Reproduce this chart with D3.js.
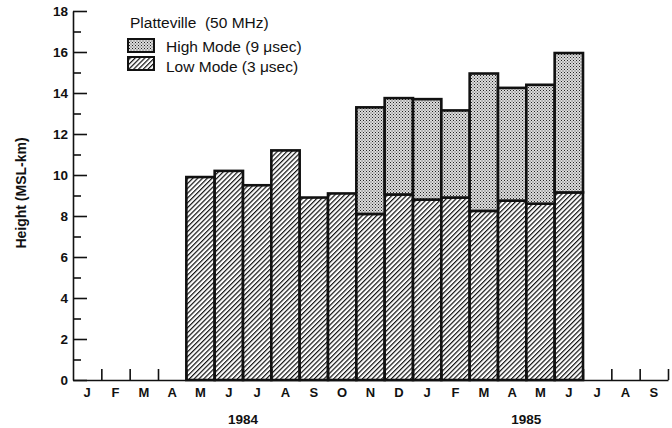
<!DOCTYPE html>
<html>
<head>
<meta charset="utf-8">
<script src="https://cdn.jsdelivr.net/npm/d3@7/dist/d3.min.js"></script>
<style>
  html, body { margin: 0; padding: 0; background: #fff; }
  svg text { font-family: "Liberation Sans", Arial, Helvetica, sans-serif; fill: #111; }
</style>
</head>
<body>
<div id="chart"></div>
<script>
// months Jan 1984 .. Sep 1985
const months = ['J','F','M','A','M','J','J','A','S','O','N','D','J','F','M','A','M','J','J','A','S'];
// low mode (3 usec) top height, km
const lowMode = [null, null, null, null, 9.9, 10.2, 9.5, 11.2, 8.9, 9.1, 8.1, 9.05, 8.8, 8.9, 8.25, 8.75, 8.6, 9.15, null, null, null];
// high mode (9 usec) top height, km
const highMode = [null, null, null, null, null, null, null, null, null, null, 13.3, 13.75, 13.7, 13.15, 14.95, 14.25, 14.4, 15.95, null, null, null];
const yearLabels = ['1984', '1985'];
const yearStart = [6, 16];
const yTicks = [0, 2, 4, 6, 8, 10, 12, 14, 16, 18];
const yMinor = [1, 3, 5, 7, 9, 11, 13, 15, 17];

const width = 672, height = 428;
const plot = { left: 73, right: 668, top: 11, bottom: 380 };

const svg = d3.select('#chart').append('svg')
  .attr('width', width)
  .attr('height', height);

const defs = svg.append('defs');
const hatch = defs.append('pattern')
  .attr('id', 'hatch')
  .attr('patternUnits', 'userSpaceOnUse')
  .attr('width', 3.4).attr('height', 3.4)
  .attr('patternTransform', 'rotate(45)');
hatch.append('rect').attr('width', 3.4).attr('height', 3.4).attr('fill', '#fff');
hatch.append('line')
  .attr('x1', 0).attr('y1', 0).attr('x2', 0).attr('y2', 3.4)
  .attr('stroke', '#111').attr('stroke-width', 2.4);

const dots = defs.append('pattern')
  .attr('id', 'dots')
  .attr('patternUnits', 'userSpaceOnUse')
  .attr('width', 3).attr('height', 3);
dots.append('rect').attr('width', 3).attr('height', 3).attr('fill', '#dcdcdc');
dots.append('rect').attr('x', 0).attr('y', 0).attr('width', 1).attr('height', 1).attr('fill', '#222');
dots.append('rect').attr('x', 1.5).attr('y', 1.5).attr('width', 1).attr('height', 1).attr('fill', '#444');

const x = d3.scaleBand().domain(d3.range(months.length)).range([plot.left, plot.right]).padding(0);
const xb = d3.scaleLinear().domain([0, months.length]).range([plot.left, plot.right]);
const y = d3.scaleLinear().domain([0, 18]).range([plot.bottom, plot.top]);

// bars: low mode hatched, high mode stippled on top
const idx = d3.range(months.length);
svg.append('g').selectAll('rect.low')
  .data(idx.filter(i => lowMode[i] != null))
  .enter().append('rect')
  .attr('class', 'low')
  .attr('x', i => x(i))
  .attr('width', x.bandwidth())
  .attr('y', i => y(lowMode[i]))
  .attr('height', i => y(0) - y(lowMode[i]))
  .attr('fill', 'url(#hatch)')
  .attr('stroke', '#111')
  .attr('stroke-width', 2.6);

svg.append('g').selectAll('rect.high')
  .data(idx.filter(i => highMode[i] != null))
  .enter().append('rect')
  .attr('class', 'high')
  .attr('x', i => x(i))
  .attr('width', x.bandwidth())
  .attr('y', i => y(highMode[i]))
  .attr('height', i => y(lowMode[i]) - y(highMode[i]))
  .attr('fill', 'url(#dots)')
  .attr('stroke', '#111')
  .attr('stroke-width', 2.6);

// y axis: major and minor ticks pointing inward
const yAxisG = svg.append('g').attr('transform', `translate(${plot.left},0)`);
yAxisG.call(d3.axisRight(y).tickValues(yTicks).tickSize(14).tickSizeOuter(0).tickFormat(''));
yAxisG.append('g').call(d3.axisRight(y).tickValues(yMinor).tickSize(8).tickSizeOuter(0).tickFormat(''))
  .select('.domain').remove();
yAxisG.selectAll('line, path').attr('stroke', '#111').attr('stroke-width', 1.6);

svg.append('g').attr('transform', `translate(${plot.left},0)`)
  .call(d3.axisLeft(y).tickValues(yTicks).tickSize(0).tickPadding(5))
  .call(g => g.select('.domain').remove())
  .selectAll('text')
  .attr('font-size', 13.5)
  .attr('font-weight', 'bold')
  .attr('fill', '#111')
  .attr('font-family', '"Liberation Sans", Arial, sans-serif');

// x axis: boundary ticks upward, month labels below
const xAxisG = svg.append('g').attr('transform', `translate(0,${plot.bottom})`);
xAxisG.call(d3.axisTop(xb).tickValues(d3.range(1, months.length + 1)).tickSize(11).tickSizeOuter(0).tickFormat(''));
xAxisG.selectAll('line, path').attr('stroke', '#111').attr('stroke-width', 1.6);

svg.append('g').attr('transform', `translate(0,${plot.bottom})`)
  .call(d3.axisBottom(x).tickSize(0).tickPadding(8).tickFormat(i => months[i]))
  .call(g => g.select('.domain').remove())
  .selectAll('text')
  .attr('font-size', 13)
  .attr('font-weight', 'bold')
  .attr('fill', '#111')
  .attr('font-family', '"Liberation Sans", Arial, sans-serif');

// years
svg.append('g').selectAll('text')
  .data(yearLabels)
  .enter().append('text')
  .attr('x', (d, i) => xb(yearStart[i]))
  .attr('y', 424)
  .attr('text-anchor', 'middle')
  .attr('font-size', 13.5)
  .attr('font-weight', 'bold')
  .text(d => d);

// y label
svg.append('text')
  .attr('transform', `translate(26,193) rotate(-90)`)
  .attr('text-anchor', 'middle')
  .attr('font-size', 14)
  .attr('font-weight', 'bold')
  .text('Height (MSL-km)');

// legend
const legend = svg.append('g');
legend.append('text')
  .attr('x', 130).attr('y', 28)
  .attr('font-size', 15.5)
  .text('Platteville\u00a0 (50 MHz)');
const legendItems = [
  { label: 'High Mode (9 \u03bcsec)', fill: 'url(#dots)' },
  { label: 'Low Mode (3 \u03bcsec)', fill: 'url(#hatch)' }
];
legend.selectAll('rect.item')
  .data(legendItems)
  .enter().append('rect')
  .attr('class', 'item')
  .attr('x', 128).attr('y', (d, i) => 39 + i * 18)
  .attr('width', 26).attr('height', 13)
  .attr('fill', d => d.fill)
  .attr('stroke', '#111').attr('stroke-width', 2);
legend.selectAll('text.item')
  .data(legendItems)
  .enter().append('text')
  .attr('class', 'item')
  .attr('x', 166).attr('y', (d, i) => 51.5 + i * 20)
  .attr('font-size', 15.5)
  .text(d => d.label);
</script>
</body>
</html>
